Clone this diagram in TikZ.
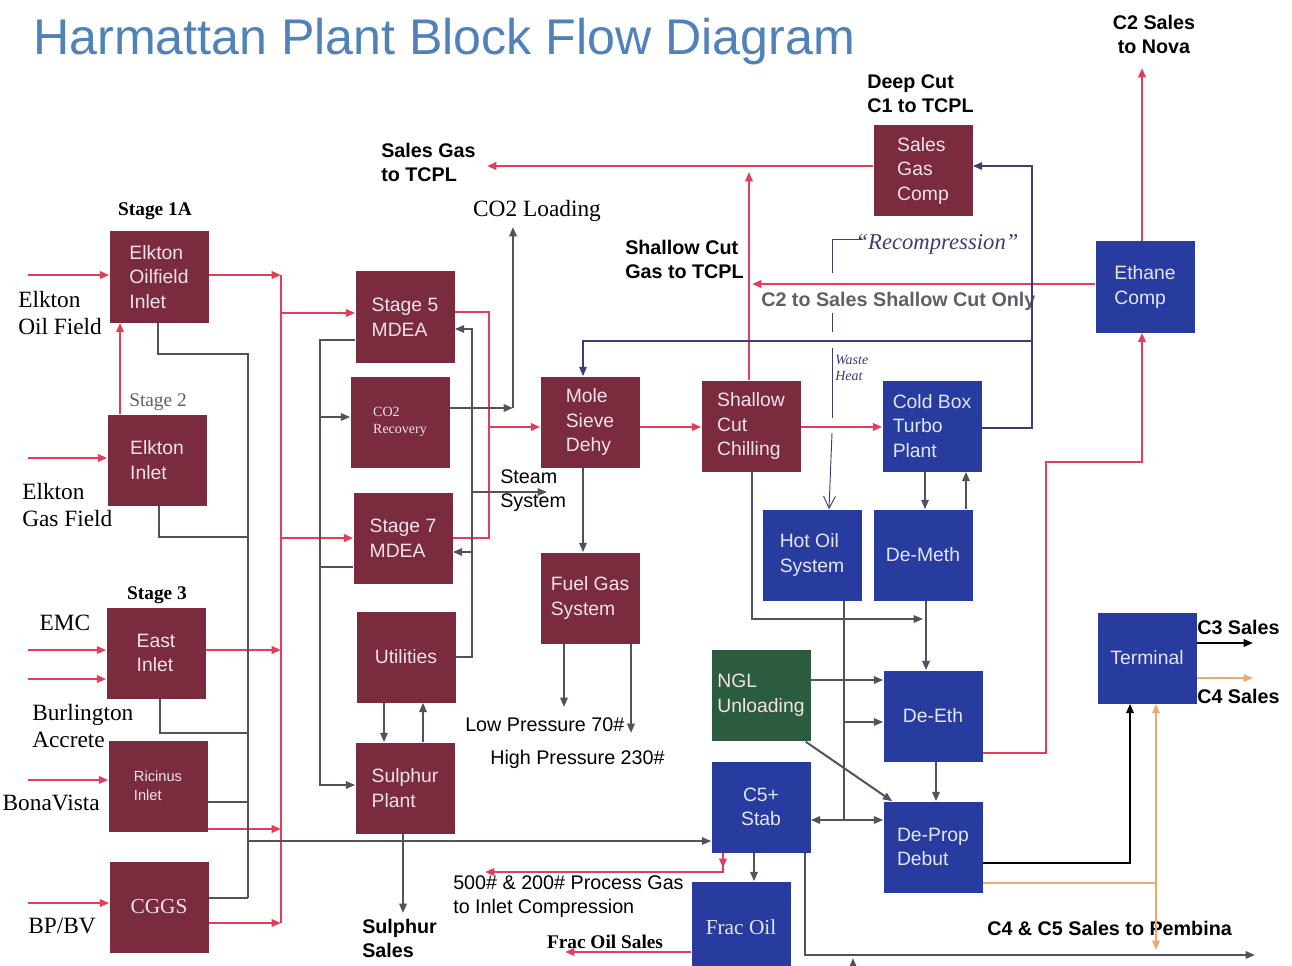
\documentclass[tikz,border=0pt]{standalone}
\usepackage{fontspec}
\setmainfont{Liberation Serif}
\setsansfont{Liberation Sans}
\usetikzlibrary{arrows.meta,calc}
\definecolor{cMar}{RGB}{122,44,62}
\definecolor{cBlu}{RGB}{40,60,160}
\definecolor{cGrn}{RGB}{44,92,64}
\definecolor{cRed}{RGB}{226,62,92}
\definecolor{cGry}{RGB}{80,82,96}
\definecolor{cNav}{RGB}{60,62,120}
\definecolor{cOra}{RGB}{240,168,110}
\definecolor{cTtl}{RGB}{80,130,185}
\definecolor{cTxt}{RGB}{242,226,230}
\definecolor{cTxb}{RGB}{225,230,245}
\definecolor{cLab}{RGB}{95,95,105}
\definecolor{cHand}{RGB}{60,62,115}
\begin{document}
\begin{tikzpicture}[x=0.75pt,y=-0.75pt,
  base/.style={minimum width=74.25pt,minimum height=68.25pt,inner sep=0pt,align=left,
    font=\sffamily\fontsize{14.5}{18.5}\selectfont},
  mbox/.style={base,fill=cMar,text=cTxt},
  bbox/.style={base,fill=cBlu,text=cTxb},
  gbox/.style={base,fill=cGrn,text=cTxt},
  arr/.style={-{Triangle[length=7pt,width=5.5pt]}},
  rl/.style={draw=cRed,line width=2pt},
  gl/.style={draw=cGry,line width=1.5pt},
  nl/.style={draw=cNav,line width=1.5pt},
  kl/.style={draw=black,line width=1.6pt},
  ol/.style={draw=cOra,line width=1.5pt},
  hl/.style={draw=cHand,line width=0.7pt},
  serl/.style={font=\fontsize{17.5}{20.5}\selectfont,align=left,inner sep=0pt},
  stl/.style={font=\bfseries\fontsize{14.5}{17}\selectfont,inner sep=0pt},
  bsl/.style={font=\sffamily\bfseries\fontsize{14.8}{18}\selectfont,align=left,inner sep=0pt},
  rsl/.style={font=\sffamily\fontsize{14.8}{18}\selectfont,align=left,inner sep=0pt}]
\useasboundingbox (0,0) rectangle (1292,966);
\fill[white] (0,0) rectangle (1292,966);

% title
\node[anchor=base west,inner sep=0pt,font=\sffamily\fontsize{37.6}{40}\selectfont,text=cTtl] (title) at (33,55) {Harmattan Plant Block Flow Diagram};

% boxes
\node[mbox] (oil) at (159,277) {Elkton\\Oilfield\\Inlet};
\node[mbox] (elk) at (157,460) {Elkton\\Inlet};
\node[mbox] (east) at (156,653) {East\\Inlet};
\node[mbox,font=\sffamily\fontsize{11}{14}\selectfont] (ric) at (158,786) {Ricinus\\Inlet};
\node[mbox,font=\fontsize{16}{19}\selectfont] (cggs) at (159,907) {CGGS};
\node[mbox] (s5) at (405,317) {Stage 5\\MDEA};
\node[mbox,font=\fontsize{10.5}{13}\selectfont] (co2) at (400,422) {CO2\\Recovery};
\node[mbox] (s7) at (403,538) {Stage 7\\MDEA};
\node[mbox] (util) at (406,657) {Utilities};
\node[mbox] (sul) at (405,788) {Sulphur\\Plant};
\node[mbox] (mole) at (590,422) {Mole\\Sieve\\Dehy};
\node[mbox] (fuel) at (590,598) {Fuel Gas\\System};
\node[mbox] (scc) at (751,426) {Shallow\\Cut\\Chilling};
\node[mbox] (sgc) at (923,171) {Sales\\Gas\\Comp};
\node[bbox] (cold) at (932,426) {Cold Box\\Turbo\\Plant};
\node[bbox] (hot) at (812,555) {Hot Oil\\System};
\node[bbox] (demeth) at (923,555) {De-Meth};
\node[gbox] (ngl) at (761,695) {NGL\\Unloading};
\node[bbox] (deeth) at (933,716) {De-Eth};
\node[bbox,align=center] (c5) at (761,807) {C5+\\Stab};
\node[bbox] (deprop) at (933,847) {De-Prop\\Debut};
\node[bbox,font=\fontsize{16}{19}\selectfont] (frac) at (741,927) {Frac Oil};
\node[bbox] (ethane) at (1145,287) {Ethane\\Comp};
\node[bbox] (term) at (1147,658) {Terminal};

% labels
\node[stl] (l1a) at (155,211) {Stage 1A};
\node[font=\fontsize{14.5}{17}\selectfont,inner sep=0pt,text=cLab] (l2) at (158,402) {Stage 2};
\node[stl] (l3) at (157,595) {Stage 3};
\node[serl,anchor=west] (leoil) at (18,313) {Elkton\\Oil Field};
\node[serl,anchor=west] (legas) at (22,505) {Elkton\\Gas Field};
\node[serl] (lemc) at (65,623) {EMC};
\node[serl,anchor=west] (lburl) at (32,726) {Burlington\\Accrete};
\node[serl,anchor=east] (lbona) at (100,803) {BonaVista};
\node[serl] (lbp) at (62,926) {BP/BV};
\node[serl] (lco2) at (537,211) {CO2 Loading};
\node[bsl,anchor=west] (lsg) at (381,162) {Sales Gas\\to TCPL};
\node[bsl,anchor=west] (ldc) at (867,94) {Deep Cut\\C1 to TCPL};
\node[bsl,align=center] (lnova) at (1154,34) {C2 Sales\\to Nova};
\node[bsl,anchor=west] (lsh) at (625,259) {Shallow Cut\\Gas to TCPL};
\node[bsl,anchor=west,text=cLab] (lc2) at (761,301) {C2 to Sales Shallow Cut Only};
\node[rsl,anchor=west] (lsteam) at (500,491) {Steam\\System};
\node[rsl,anchor=west] (llp) at (465,725) {Low Pressure 70\#};
\node[rsl,anchor=west] (lhp) at (490,759) {High Pressure 230\#};
\node[bsl,anchor=west] (lss) at (362,938) {Sulphur\\Sales};
\node[rsl,anchor=west] (lpg) at (453,897) {500\# \& 200\# Process Gas\\to Inlet Compression};
\node[stl] (lfs) at (605,942) {Frac Oil Sales};
\node[bsl,anchor=west] (lpem) at (987,928) {C4 \& C5 Sales to Pembina};
\node[bsl,anchor=west] (lc3) at (1197,627) {C3 Sales};
\node[bsl,anchor=west] (lc4) at (1197,696) {C4 Sales};
\node[font=\itshape\fontsize{17}{20}\selectfont,text=cHand,inner sep=0pt] (lrec) at (937,244) {``Recompression''};
\node[font=\itshape\fontsize{10.5}{12}\selectfont,text=cHand,align=left,inner sep=0pt,anchor=west] (lwh) at (835,368) {Waste\\Heat};

% ---- red connectors
\coordinate (i1) at (28,275); \draw[rl,arr] (i1) -- (oil.west |- i1);
\coordinate (i2) at (28,458); \draw[rl,arr] (i2) -- (elk.west |- i2);
\coordinate (i3) at (28,650); \draw[rl,arr] (i3) -- (east.west |- i3);
\coordinate (i4) at (28,679); \draw[rl,arr] (i4) -- (east.west |- i4);
\coordinate (i5) at (28,780); \draw[rl,arr] (i5) -- (ric.west |- i5);
\coordinate (i6) at (28,903); \draw[rl,arr] (i6) -- (cggs.west |- i6);
\draw[rl,arr] (elk.north -| 120,0) -- (oil.south -| 120,0);
\coordinate (rbt) at (281,275); \coordinate (rbb) at (281,923);
\draw[rl] (rbt) -- (rbb);
\draw[rl,arr] (oil.east |- rbt) -- (rbt);
\draw[rl,arr] (east.east |- 0,650) -- (rbt |- 0,650);
\draw[rl,arr] (ric.east |- 0,829) -- (rbt |- 0,829);
\draw[rl,arr] (cggs.east |- rbb) -- (rbb);
\draw[rl,arr] (rbt |- 0,313) -- (s5.west |- 0,313);
\draw[rl,arr] (rbt |- 0,538) -- (s7.west |- 0,538);
\coordinate (rj) at (489,427);
\draw[rl] (s5.east |- 0,312) -- (rj |- 0,312) -- (rj |- 0,538) -- (s7.east |- 0,538);
\draw[rl,arr] (rj) -- (mole.west |- rj);
\draw[rl,arr] (mole.east |- rj) -- (scc.west |- rj);
\draw[rl,arr] (scc.east |- rj) -- (cold.west |- rj);
\coordinate (sgto) at (487,166);
\draw[rl,arr] (sgc.west |- sgto) -- (sgto);
\coordinate (scup) at (749,172);
\draw[rl,arr] (scc.north -| scup) -- (scup);
\coordinate (c2to) at (752,284);
\draw[rl,arr] (ethane.west |- c2to) -- (c2to);
\coordinate (nova) at (1142,68);
\draw[rl,arr] (ethane.north -| nova) -- (nova);
\draw[rl,arr] (deeth.east |- 0,753) -- (1046,753) -- (1046,462) -- (1142,462) -- (ethane.south -| nova);
\coordinate (pgto) at (485,872);
\draw[rl,arr] (c5.south -| 723,0) -- (723,872) -- (pgto);
\draw[rl,arr] (c5.south -| 723,0) -- (723,868);
\coordinate (fsto) at (565,952);
\draw[rl,arr] (frac.west |- fsto) -- (fsto);

% ---- gray connectors, left
\coordinate (gbt) at (248,354); \coordinate (gbb) at (248,898);
\draw[gl] (oil.south -| 158,0) |- (gbt) -- (gbb);
\draw[gl] (elk.south -| 159,0) |- (gbt |- 0,537);
\draw[gl] (east.south -| 160,0) |- (gbt |- 0,733);
\draw[gl] (ric.east |- 0,802) -- (gbt |- 0,802);
\draw[gl] (cggs.east |- gbb) -- (gbb);
\draw[gl,arr] (gbt |- 0,841) -- (c5.west |- 0,841);
\coordinate (g2t) at (320,340);
\draw[gl,arr] (s5.west |- g2t) -- (g2t) -- (g2t |- 0,785) -- (sul.west |- 0,785);
\draw[gl,arr] (g2t |- 0,417) -- (co2.west |- 0,417);
\draw[gl] (s7.west |- 0,567) -- (g2t |- 0,567);
\coordinate (co2j) at (513,408); \coordinate (co2up) at (513,227);
\draw[gl,arr] (co2.east |- co2j) -- (co2j);
\draw[gl,arr] (co2j) -- (co2up);
\coordinate (stm) at (472,657); \coordinate (stmto) at (547,492);
\draw[gl,arr] (util.east |- stm) -- (stm) -- (stm |- 0,329) -- (s5.east |- 0,329);
\draw[gl,arr] (stm |- 0,552) -- (s7.east |- 0,552);
\draw[gl,arr] (stm |- stmto) -- (stmto);
\draw[gl,arr] (util.south -| 384,0) -- (sul.north -| 384,0);
\draw[gl,arr] (sul.north -| 423,0) -- (util.south -| 423,0);
\coordinate (sso) at (403,913);
\draw[gl,arr] (sul.south -| sso) -- (sso);
\draw[gl,arr] (mole.south -| 583,0) -- (fuel.north -| 583,0);
\coordinate (lpo) at (564,707); \coordinate (hpo) at (631,733);
\draw[gl,arr] (fuel.south -| lpo) -- (lpo);
\draw[gl,arr] (fuel.south -| hpo) -- (hpo);

% ---- navy connectors
\coordinate (nv) at (1032,428);
\draw[nl,arr] (cold.east |- nv) -- (nv) -- (nv |- 0,166) -- (sgc.east |- 0,166);
\draw[nl,arr] (nv |- 0,341) -- (583,341) -- (mole.north -| 583,0);

% ---- gray connectors, right
\draw[gl,arr] (cold.south -| 925,0) -- (demeth.north -| 925,0);
\draw[gl,arr] (demeth.north -| 966,0) -- (cold.south -| 966,0);
\draw[gl,arr] (scc.south -| 752,0) -- (752,619) -- (923,619);
\draw[gl,arr] (demeth.south -| 926,0) -- (deeth.north -| 926,0);
\coordinate (hj) at (844,820);
\draw[gl] (hot.south -| hj) -- (hj);
\draw[gl,arr] (hj |- 0,722) -- (deeth.west |- 0,722);
\draw[gl,arr] (hj) -- (c5.east |- hj);
\draw[gl,arr] (hj) -- (deprop.west |- hj);
\draw[gl,arr] (ngl.east |- 0,680) -- (deeth.west |- 0,680);
\draw[gl,arr] ($(ngl.south east)+(-5,1)$) -- ($(deprop.north west)+(9,0)$);
\draw[gl,arr] (deeth.south -| 936,0) -- (deprop.north -| 936,0);
\draw[gl,arr] (c5.south -| 754,0) -- (frac.north -| 754,0);
\coordinate (pemto) at (1255,955);
\draw[gl,arr] (c5.south -| 805,0) |- (pemto);
\coordinate (ub) at (853,966);
\draw[gl,arr] (ub) -- (853,958);

% ---- terminal products
\draw[kl,arr] (deprop.east |- 0,863) -| (term.south -| 1130,0);
\coordinate (oj) at (1156,883);
\draw[ol] (deprop.east |- oj) -- (oj);
\draw[ol,arr] (oj) -- (term.south -| oj);
\draw[ol,arr] (oj) -- (1156,950);
\coordinate (c3to) at (1253,643); \coordinate (c4to) at (1253,678);
\draw[kl,arr] (term.east |- c3to) -- (c3to);
\draw[ol,arr] (term.east |- c4to) -- (c4to);

% ---- handwritten recompression mark
\draw[hl] (863,239) -- (832,239) -- (832,273);
\draw[hl] (832,313) -- (832,332);
\draw[hl] (832,348) -- (832,418);
\draw[hl,-{Straight Barb[length=9pt,width=9pt]}] (832,433) -- (hot.north -| 829,0);
\end{tikzpicture}
\end{document}
